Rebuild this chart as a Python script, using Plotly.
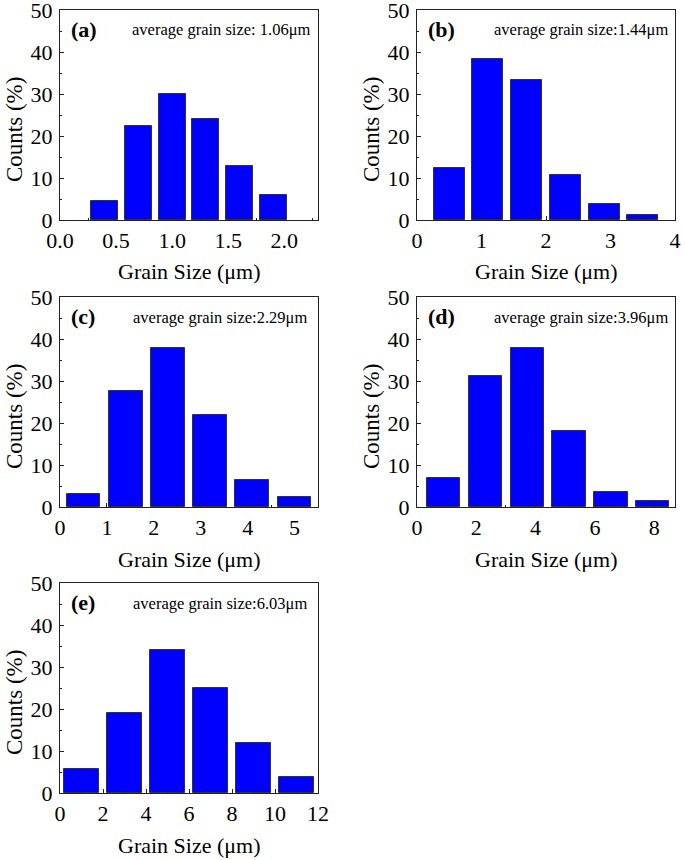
import plotly.graph_objects as go

W, H = 685, 860
FONT = "Liberation Serif, Times New Roman, serif"

# ---- data ----
labels = ["(a)", "(b)", "(c)", "(d)", "(e)"]
avg_texts = ["average grain size: 1.06\u03bcm", "average grain size:1.44\u03bcm",
             "average grain size:2.29\u03bcm", "average grain size:3.96\u03bcm",
             "average grain size:6.03\u03bcm"]
sizes_a = [0.4, 0.7, 1.0, 1.3, 1.6, 1.9]
counts_a = [4.5, 22.5, 30.0, 24.0, 12.8, 6.0]
sizes_b = [0.5, 1.1, 1.7, 2.3, 2.9, 3.5]
counts_b = [12.5, 38.3, 33.4, 10.8, 3.8, 1.1]
sizes_c = [0.5, 1.4, 2.3, 3.2, 4.1, 5.0]
counts_c = [3.2, 27.7, 37.9, 21.9, 6.4, 2.4]
sizes_d = [0.9, 2.31, 3.72, 5.13, 6.54, 7.95]
counts_d = [7.0, 31.3, 37.9, 18.1, 3.6, 1.5]
sizes_e = [1.0, 3.0, 5.0, 7.0, 9.0, 11.0]
counts_e = [5.8, 19.0, 34.0, 25.0, 11.9, 3.9]
x_ranges = [[0, 2.3], [0, 4], [0, 5.5], [0, 8.7], [0, 12]]
x_ticks = [[0.0, 0.5, 1.0, 1.5, 2.0], [0, 1, 2, 3, 4], [0, 1, 2, 3, 4, 5],
           [0, 2, 4, 6, 8], [0, 2, 4, 6, 8, 10, 12]]
x_ticktext = [["0.0", "0.5", "1.0", "1.5", "2.0"], ["0", "1", "2", "3", "4"],
              ["0", "1", "2", "3", "4", "5"], ["0", "2", "4", "6", "8"],
              ["0", "2", "4", "6", "8", "10", "12"]]
y_ticks = [0, 10, 20, 30, 40, 50]

series = [(sizes_a, counts_a), (sizes_b, counts_b), (sizes_c, counts_c),
          (sizes_d, counts_d), (sizes_e, counts_e)]

# ---- layout boxes (pixels: left, right, top, bottom) ----
boxes = [(60, 318, 10, 220), (417, 675, 10, 220),
         (60, 318, 297, 507), (417, 675, 297, 507),
         (60, 318, 583, 793)]

fig = go.Figure()
annotations = []

def px(x):
    return x / W

def py(y):
    return 1 - y / H

for i, ((xs, ys), (l, r, t, b)) in enumerate(zip(series, boxes)):
    n = "" if i == 0 else str(i + 1)
    pitch = xs[1] - xs[0]
    fig.add_trace(go.Bar(
        x=xs, y=ys, width=[0.8 * pitch] * len(xs),
        marker=dict(color="#0000FF", line=dict(color="#333333", width=1)),
        xaxis="x" + n, yaxis="y" + n, showlegend=False,
    ))
    dx = x_ticks[i][1] - x_ticks[i][0]
    axis_common = dict(
        showline=True, mirror=True, linecolor="#222222", linewidth=1,
        ticks="inside", ticklen=4, tickwidth=1, tickcolor="#222222",
        showgrid=False, zeroline=False, automargin=False,
        ticklabeloverflow="allow",
        tickfont=dict(family=FONT, size=22, color="black"),
        fixedrange=True,
    )
    fig.update_layout(**{
        "xaxis" + n: dict(axis_common, domain=[px(l), px(r)], anchor="y" + n,
                          range=x_ranges[i], tickvals=x_ticks[i], ticktext=x_ticktext[i],
                          ticklabelstandoff=1,
                          minor=dict(ticks="inside", ticklen=2, dtick=dx / 2,
                                     tick0=0, tickcolor="#222222")),
        "yaxis" + n: dict(axis_common, domain=[py(b), py(t)], anchor="x" + n,
                          range=[0, 50], tickvals=y_ticks, ticklabelstandoff=2,
                          minor=dict(ticks="inside", ticklen=2, dtick=5,
                                     tick0=0, tickcolor="#222222")),
    })
    # panel label
    annotations.append(dict(x=px(l + 9), y=py(t + 19), xref="paper", yref="paper",
                            text="<b>" + labels[i] + "</b>", showarrow=False,
                            xanchor="left", yanchor="middle",
                            font=dict(family=FONT, size=22, color="black")))
    # average text
    rx = r - 5 if i in (0, 1, 3) else r - 9
    annotations.append(dict(x=px(rx), y=py(t + 20), xref="paper", yref="paper",
                            text=avg_texts[i], showarrow=False,
                            xanchor="right", yanchor="middle",
                            font=dict(family=FONT, size=16.5, color="black")))
    # axis titles
    annotations.append(dict(x=px((l + r) / 2), y=py(b + 52), xref="paper", yref="paper",
                            text="Grain Size (\u03bcm)", showarrow=False,
                            xanchor="center", yanchor="middle",
                            font=dict(family=FONT, size=22, color="black")))
    annotations.append(dict(x=px(l - 46), y=py((t + b) / 2 + 15), xref="paper", yref="paper",
                            text="Counts (%)", showarrow=False, textangle=-90,
                            xanchor="center", yanchor="middle",
                            font=dict(family=FONT, size=23, color="black")))

fig.update_layout(
    template="none",
    width=W, height=H, margin=dict(l=0, r=0, t=0, b=0, pad=0),
    paper_bgcolor="white", plot_bgcolor="white",
    annotations=annotations, bargap=0,
)

fig.write_html("out.html", config={"displayModeBar": False},
               post_script="document.body.style.margin='0';document.body.style.overflow='hidden';")
